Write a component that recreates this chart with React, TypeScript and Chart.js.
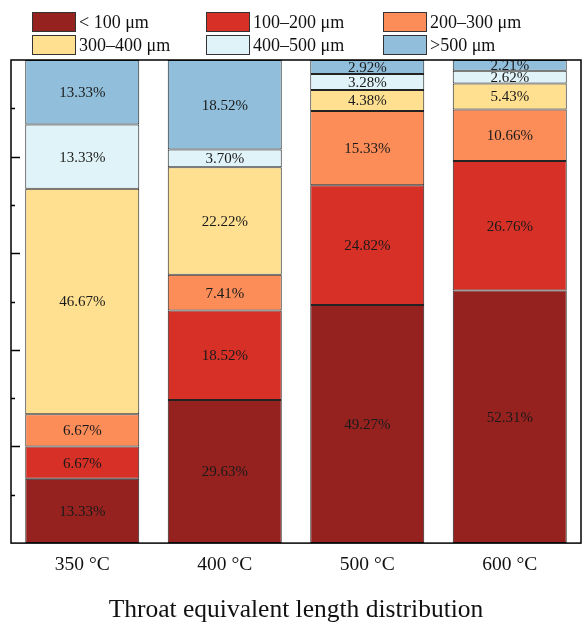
import React, { useEffect, useRef } from "react";
import { Chart, registerables } from "chart.js";

Chart.register(...registerables);

const temperatures = ["350 °C", "400 °C", "500 °C", "600 °C"];

const sizeClasses = ["< 100 μm", "100–200 μm", "200–300 μm", "300–400 μm", "400–500 μm", ">500 μm"];

const below100 = [13.33, 29.63, 49.27, 52.31];
const from100to200 = [6.67, 18.52, 24.82, 26.76];
const from200to300 = [6.67, 7.41, 15.33, 10.66];
const from300to400 = [46.67, 22.22, 4.38, 5.43];
const from400to500 = [13.33, 3.7, 3.28, 2.62];
const above500 = [13.33, 18.52, 2.92, 2.21];

const seriesValues = [below100, from100to200, from200to300, from300to400, from400to500, above500];
const seriesColors = ["#962220", "#d73027", "#fc8d59", "#fee090", "#e0f3f8", "#91bfdb"];

const SERIF = '"Liberation Serif", "Times New Roman", serif';

// Legend in a fixed 3 x 2 grid above the plot
const gridLegend = {
  id: "gridLegend",
  afterDraw(chart: any) {
    const ctx = chart.ctx;
    const cols = [32, 206, 383];
    const rows = [12, 35];
    ctx.save();
    ctx.font = `18px ${SERIF}`;
    ctx.textBaseline = "middle";
    ctx.textAlign = "left";
    chart.data.datasets.forEach((ds: any, i: number) => {
      const x = cols[i % 3];
      const y = rows[Math.floor(i / 3)];
      ctx.fillStyle = ds.backgroundColor;
      ctx.fillRect(x, y, 44, 20);
      ctx.strokeStyle = "#333";
      ctx.lineWidth = 1;
      ctx.strokeRect(x + 0.5, y + 0.5, 43, 19);
      ctx.fillStyle = "#111";
      ctx.fillText(ds.label, x + 47, y + 11);
    });
    ctx.restore();
  },
};

// Percent labels centred on each segment
const segmentLabels = {
  id: "segmentLabels",
  afterDatasetsDraw(chart: any) {
    const ctx = chart.ctx;
    const area = chart.chartArea;
    ctx.save();
    ctx.beginPath();
    ctx.rect(area.left, area.top, area.right - area.left, area.bottom - area.top);
    ctx.clip();
    ctx.font = `15px ${SERIF}`;
    ctx.fillStyle = "#1a1a1a";
    ctx.textAlign = "center";
    ctx.textBaseline = "middle";
    chart.data.datasets.forEach((ds: any, di: number) => {
      const meta = chart.getDatasetMeta(di);
      meta.data.forEach((bar: any, i: number) => {
        const v = ds.data[i];
        const yc = (bar.y + bar.base) / 2;
        ctx.fillText(v.toFixed(2) + "%", bar.x, yc + 1);
      });
    });
    ctx.restore();
  },
};

// Plot frame and inward ticks on the left axis
const frameAndTicks = {
  id: "frameAndTicks",
  afterDraw(chart: any) {
    const ctx = chart.ctx;
    const a = chart.chartArea;
    const y = chart.scales.y;
    ctx.save();
    ctx.strokeStyle = "#000";
    ctx.lineWidth = 1.5;
    ctx.strokeRect(a.left, a.top, a.right - a.left, a.bottom - a.top);
    for (let v = 10; v < 100; v += 10) {
      const py = Math.round(y.getPixelForValue(v)) + 0.5;
      const len = v % 20 === 0 ? 9 : 4;
      ctx.beginPath();
      ctx.moveTo(a.left, py);
      ctx.lineTo(a.left + len, py);
      ctx.stroke();
    }
    ctx.restore();
  },
};

export default function App() {
  const canvasRef = useRef<HTMLCanvasElement | null>(null);

  useEffect(() => {
    if (!canvasRef.current) return;
    const chart = new Chart(canvasRef.current, {
      type: "bar",
      data: {
        labels: temperatures,
        datasets: seriesValues.map((values, i) => ({
          label: sizeClasses[i],
          data: values,
          backgroundColor: seriesColors[i],
          borderColor: "#222",
          borderWidth: 1,
          borderSkipped: false,
          categoryPercentage: 0.8,
          barPercentage: 1,
        })),
      },
      options: {
        responsive: false,
        animation: false,
        layout: { padding: { left: 11, right: 7, top: 60, bottom: 0 } },
        plugins: {
          legend: { display: false },
          tooltip: { enabled: false },
        },
        scales: {
          x: {
            stacked: true,
            grid: { display: false, drawTicks: false },
            border: { display: false },
            ticks: {
              padding: 10,
              color: "#111",
              font: { family: SERIF, size: 19.5 },
            },
            title: {
              display: true,
              text: "Throat equivalent length distribution",
              color: "#111",
              font: { family: SERIF, size: 25.5, lineHeight: 1 },
              padding: { top: 11, bottom: 1 },
            },
          },
          y: {
            stacked: true,
            display: false,
            min: 0,
            max: 100,
          },
        },
      },
      plugins: [segmentLabels, frameAndTicks, gridLegend],
    });
    return () => chart.destroy();
  }, []);

  return (
    <div style={{ position: "absolute", left: 0, top: 0, width: 588, height: 624, background: "#fff" }}>
      <canvas ref={canvasRef} width={588} height={624} />
    </div>
  );
}
